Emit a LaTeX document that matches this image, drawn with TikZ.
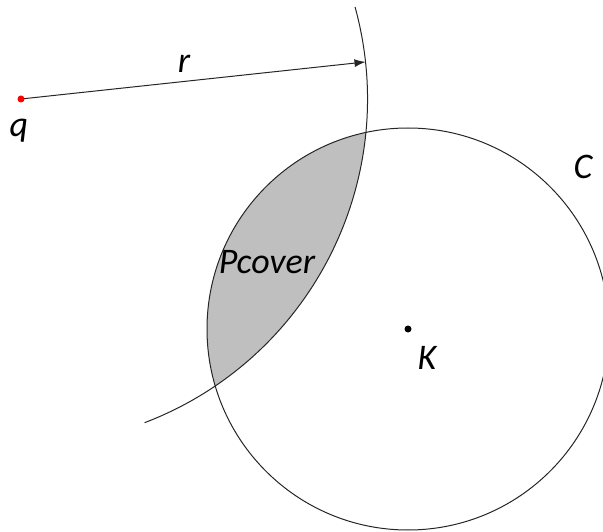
\documentclass[tikz,border=0pt]{standalone}
\usepackage{fontspec}
\setmainfont{Carlito}
\usetikzlibrary{arrows.meta}
\begin{document}
\begin{tikzpicture}[x=1pt,y=-1pt,
  lbl/.style={font=\itshape\fontsize{36}{40}\selectfont, inner sep=0pt, anchor=base},
  ln/.style={line width=1pt, draw=black!85}]
\useasboundingbox (0,0) rectangle (603,532);
\coordinate (q) at (21,99);
\coordinate (K) at (408,329);
\begin{scope}
  \clip (K) circle (201pt);
  \fill[gray!50] (q) circle (346.5pt);
\end{scope}
\draw[ln] (K) circle (201pt);
\draw[ln] (q) ++(15.4:346.5pt) coordinate (atop) arc[start angle=15.4, end angle=-69.1, radius=346.5pt] coordinate (abot);
\path (q) ++(6.14:346.5pt) coordinate (rtip);
\draw[ln, -{Latex[length=11pt,width=8pt]}] (q) -- (rtip);
\fill[red] (q) circle (3.5pt);
\fill[black] (K) circle (3.5pt);
\node[lbl] (ql) at (19,137) {q};
\node[lbl] (rl) at (184,73) {r};
\node[lbl] (pc) at (267,273) {Pcover};
\node[lbl] (cl) at (583,179) {C};
\node[lbl] (kl) at (427,369) {K};
\end{tikzpicture}
\end{document}
